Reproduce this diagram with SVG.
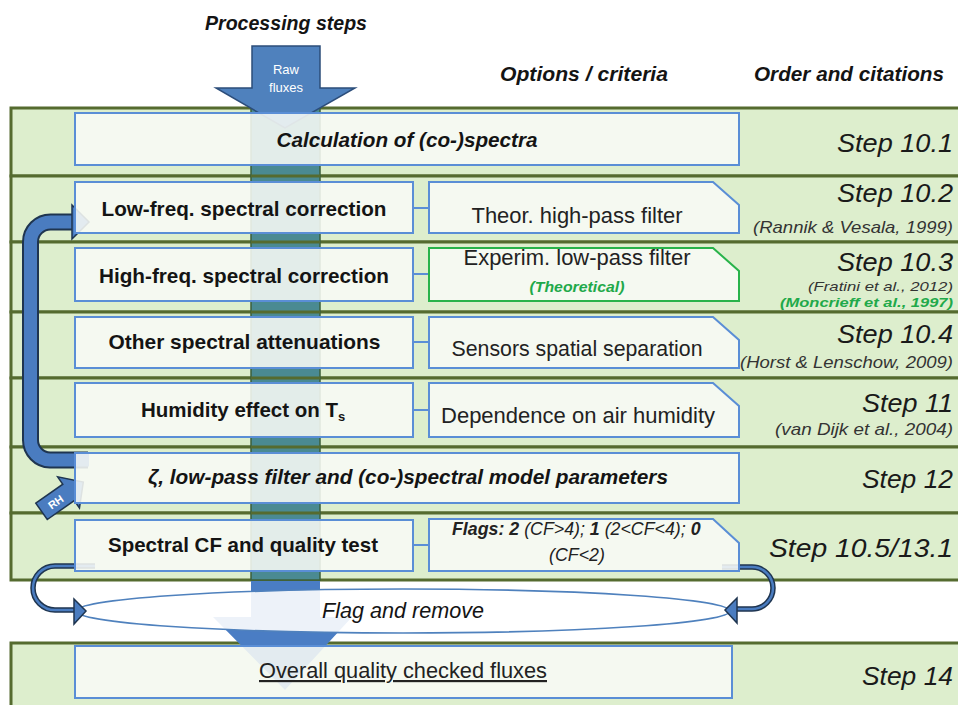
<svg xmlns="http://www.w3.org/2000/svg" width="958" height="705" viewBox="0 0 958 705">
<style>
.band{fill:#ddeecd;stroke:#556b2f;stroke-width:3}
.box{fill:#f8faf6;fill-opacity:0.88;stroke:#5a8ed6;stroke-width:2}
.boxg{fill:#f8faf6;fill-opacity:0.88;stroke:#28b34a;stroke-width:2}
.link{stroke:#5a8ed6;stroke-width:2;fill:none}
text{font-family:"Liberation Sans",Arial,sans-serif;fill:#141414}
.hdr{font-weight:bold;font-style:italic;font-size:19.5px;text-anchor:middle}
.lbl{font-weight:bold;font-size:20.5px;text-anchor:middle}
.lbli{font-weight:bold;font-style:italic;font-size:20.5px;text-anchor:middle}
.opt{font-size:22px;text-anchor:middle;fill:#222}
.step{font-style:italic;font-size:25px;text-anchor:end;fill:#1a1a1a}
.cite{font-style:italic;font-size:16.5px;text-anchor:end;fill:#333}
.grn{fill:#1fa94a;font-weight:bold;font-style:italic}
.dark{fill:none;stroke:#1f3550}
.blue{fill:none;stroke:#4a7cc0}
</style>
<rect x="0" y="0" width="958" height="705" fill="#ffffff"/>

<!-- bands -->
<g id="bands">
<rect class="band" x="11" y="108" width="960" height="68"/>
<rect class="band" x="11" y="176" width="960" height="66"/>
<rect class="band" x="11" y="242" width="960" height="70"/>
<rect class="band" x="11" y="312" width="960" height="66"/>
<rect class="band" x="11" y="378" width="960" height="69"/>
<rect class="band" x="11" y="447" width="960" height="66"/>
<rect class="band" x="11" y="513" width="960" height="67"/>
<rect class="band" x="11" y="643" width="960" height="70"/>
</g>

<!-- processing arrow -->
<g id="processing-arrow">
<rect x="251" y="108" width="69" height="472" fill="#4a8a92" stroke="#3b5f3a" stroke-width="1.5"/>
<g stroke="#556b2f" stroke-width="3">
<line x1="251" y1="176" x2="320" y2="176"/>
<line x1="251" y1="242" x2="320" y2="242"/>
<line x1="251" y1="312" x2="320" y2="312"/>
<line x1="251" y1="378" x2="320" y2="378"/>
<line x1="251" y1="447" x2="320" y2="447"/>
<line x1="251" y1="513" x2="320" y2="513"/>
</g>
<path d="M251,581 H320 V617 H352 L285,690 L213,617 H251 Z" fill="#4a7dc4"/>
<path d="M252,46 H320 V88 H355 L285,128 L216,88 H252 Z" fill="#4f81bd" stroke="#2c4d7a" stroke-width="1.5"/>
<text x="286" y="74" style="font-size:13px;fill:#ffffff;text-anchor:middle">Raw</text>
<text x="286" y="92" style="font-size:13px;fill:#ffffff;text-anchor:middle">fluxes</text>
</g>

<!-- connectors -->
<g id="connectors">
<!-- RH loop bracket -->
<path class="dark" stroke-width="17" d="M88,460 H50 A20,20 0 0 1 30.5,440 V242 A20,20 0 0 1 50.5,222 H73"/>
<path class="blue" stroke-width="13" d="M89,460 H50 A20,20 0 0 1 30.5,440 V242 A20,20 0 0 1 50.5,222 H74"/>
<polygon points="72,205 72,239 89,222" fill="#4a7cc0" stroke="#1f3550" stroke-width="1.5"/>
<g transform="translate(62,497) rotate(-35)">
<polygon points="-25,-10 8,-10 8,-19 26,0 8,19 8,10 -25,10" fill="#4a7cc0" stroke="#1f3550" stroke-width="1.5"/>
<text x="-8" y="4.5" style="font-size:11px;font-weight:bold;fill:#ffffff;text-anchor:middle">RH</text>
</g>
<!-- box to option links -->
<line class="link" x1="413" y1="208" x2="429" y2="208"/>
<line class="link" x1="413" y1="274" x2="429" y2="274"/>
<line class="link" x1="413" y1="342" x2="429" y2="342"/>
<line class="link" x1="413" y1="410" x2="429" y2="410"/>
<line class="link" x1="413" y1="545" x2="429" y2="545"/>
</g>

<!-- flag and remove -->
<g id="flag-remove">
<ellipse cx="403" cy="611" rx="327" ry="22" fill="#ffffff" fill-opacity="0.9" stroke="#4f81bd" stroke-width="1.6"/>
<text x="403" y="618" style="font-style:italic;font-size:21.5px;text-anchor:middle" textLength="162" lengthAdjust="spacingAndGlyphs">Flag and remove</text>
</g>
<g id="flag-arrows">
<path class="dark" stroke-width="5.5" d="M95,566 H55 A22,22 0 0 0 55,610 H76"/>
<path class="blue" stroke-width="2.5" d="M95,566 H55 A22,22 0 0 0 55,610 H77"/>
<polygon points="74,599 74,624 86,611" fill="#4a7cc0" stroke="#1f3550" stroke-width="1.5"/>
<path class="dark" stroke-width="5.5" d="M722,567 H752 A21,21 0 0 1 752,609 H736"/>
<path class="blue" stroke-width="2.5" d="M722,567 H752 A21,21 0 0 1 752,609 H735"/>
<polygon points="737,598 737,623 725,610" fill="#4a7cc0" stroke="#1f3550" stroke-width="1.5"/>
</g>

<!-- nodes -->
<g id="step-10-1">
<rect class="box" x="75" y="113" width="664" height="52"/>
<text class="lbli" x="407" y="147" textLength="261" lengthAdjust="spacingAndGlyphs">Calculation of (co-)spectra</text>
</g>
<g id="step-10-2">
<rect class="box" x="75" y="182" width="338" height="51"/>
<text class="lbl" x="244" y="216" textLength="285" lengthAdjust="spacingAndGlyphs">Low-freq. spectral correction</text>
</g>
<g id="opt-10-2">
<path class="box" d="M429,182 H713 L739,205 V233 H429 Z"/>
<text class="opt" x="577" y="223" textLength="211" lengthAdjust="spacingAndGlyphs">Theor. high-pass filter</text>
</g>
<g id="step-10-3">
<rect class="box" x="75" y="248" width="338" height="53"/>
<text class="lbl" x="244" y="283" textLength="290" lengthAdjust="spacingAndGlyphs">High-freq. spectral correction</text>
</g>
<g id="opt-10-3">
<path class="boxg" d="M429,248 H713 L739,271 V301 H429 Z"/>
<text class="opt" x="577" y="265" textLength="227" lengthAdjust="spacingAndGlyphs">Experim. low-pass filter</text>
<text class="grn" x="577" y="292" style="font-size:15.5px;text-anchor:middle" textLength="95" lengthAdjust="spacingAndGlyphs">(Theoretical)</text>
</g>
<g id="step-10-4">
<rect class="box" x="75" y="317" width="338" height="51"/>
<text class="lbl" x="244.5" y="349" textLength="272" lengthAdjust="spacingAndGlyphs">Other spectral attenuations</text>
</g>
<g id="opt-10-4">
<path class="box" d="M429,317 H713 L739,340 V368 H429 Z"/>
<text class="opt" x="577" y="356" textLength="251" lengthAdjust="spacingAndGlyphs">Sensors spatial separation</text>
</g>
<g id="step-11">
<rect class="box" x="75" y="383" width="338" height="54"/>
<text style="font-weight:bold;font-size:20.5px" x="141" y="417">Humidity effect on T<tspan dy="4" style="font-size:13px">s</tspan></text>
</g>
<g id="opt-11">
<path class="box" d="M429,383 H713 L739,406 V437 H429 Z"/>
<text class="opt" x="578" y="423" textLength="274" lengthAdjust="spacingAndGlyphs">Dependence on air humidity</text>
</g>
<g id="step-12">
<rect class="box" x="75" y="453" width="664" height="50"/>
<text class="lbli" x="408" y="484" textLength="520" lengthAdjust="spacingAndGlyphs">ζ, low-pass filter and (co-)spectral model parameters</text>
</g>
<g id="step-13-1">
<rect class="box" x="75" y="520" width="338" height="51"/>
<text class="lbl" x="243" y="552" textLength="270" lengthAdjust="spacingAndGlyphs">Spectral CF and quality test</text>
</g>
<g id="opt-13-1">
<path class="box" d="M429,519 H713 L739,543 V571 H429 Z"/>
<text x="452" y="535" style="font-style:italic;font-size:17.8px;fill:#222"><tspan font-weight="bold">Flags: 2</tspan> (CF&gt;4); <tspan font-weight="bold">1</tspan> (2&lt;CF&lt;4); <tspan font-weight="bold">0</tspan></text>
<text x="577" y="561" style="font-style:italic;font-size:17.8px;text-anchor:middle;fill:#222">(CF&lt;2)</text>
</g>
<g id="step-14">
<rect class="box" x="75" y="646" width="657" height="52"/>
<text x="403" y="678" style="font-size:21.8px;text-anchor:middle;text-decoration:underline;fill:#222" textLength="288" lengthAdjust="spacingAndGlyphs">Overall quality checked fluxes</text>
</g>

<!-- headers -->
<g id="headers">
<text class="hdr" x="286" y="30" textLength="162" lengthAdjust="spacingAndGlyphs">Processing steps</text>
<text class="hdr" x="584" y="81" textLength="168" lengthAdjust="spacingAndGlyphs">Options / criteria</text>
<text class="hdr" x="849" y="81" textLength="190" lengthAdjust="spacingAndGlyphs">Order and citations</text>
</g>

<!-- step labels and citations -->
<g id="steps">
<text class="step" x="953" y="152" textLength="116" lengthAdjust="spacingAndGlyphs">Step 10.1</text>
<text class="step" x="953" y="202" textLength="116" lengthAdjust="spacingAndGlyphs">Step 10.2</text>
<text class="cite" x="953" y="233" textLength="200" lengthAdjust="spacingAndGlyphs">(Rannik &amp; Vesala, 1999)</text>
<text class="step" x="953" y="271" textLength="116" lengthAdjust="spacingAndGlyphs">Step 10.3</text>
<text class="cite" x="953" y="291" style="font-size:13.5px" textLength="145" lengthAdjust="spacingAndGlyphs">(Fratini et al., 2012)</text>
<text class="cite grn" x="953" y="307" style="font-size:13.5px" textLength="173" lengthAdjust="spacingAndGlyphs">(Moncrieff et al., 1997)</text>
<text class="step" x="953" y="343" textLength="116" lengthAdjust="spacingAndGlyphs">Step 10.4</text>
<text class="cite" x="953" y="368" textLength="213" lengthAdjust="spacingAndGlyphs">(Horst &amp; Lenschow, 2009)</text>
<text class="step" x="953" y="412" textLength="91" lengthAdjust="spacingAndGlyphs">Step 11</text>
<text class="cite" x="953" y="435" textLength="178" lengthAdjust="spacingAndGlyphs">(van Dijk et al., 2004)</text>
<text class="step" x="953" y="488" textLength="91" lengthAdjust="spacingAndGlyphs">Step 12</text>
<text class="step" x="953" y="557" textLength="184" lengthAdjust="spacingAndGlyphs">Step 10.5/13.1</text>
<text class="step" x="953" y="685" textLength="91" lengthAdjust="spacingAndGlyphs">Step 14</text>
</g>
</svg>
